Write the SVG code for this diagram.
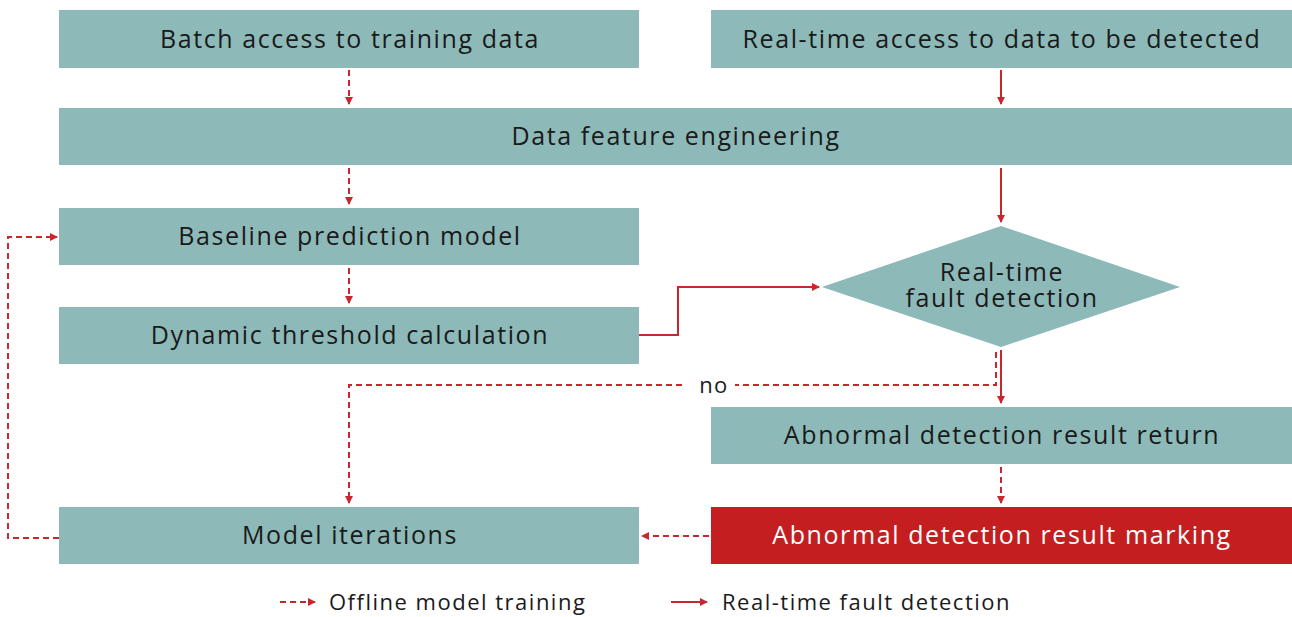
<svg xmlns="http://www.w3.org/2000/svg" width="1292" height="617" viewBox="0 0 1292 617">
<style>
.box{fill:#8db9b8}
.red{fill:#c41e20}
.t{font-family:"Open Sans","Liberation Sans",sans-serif;font-size:25px;letter-spacing:1.6px;fill:#1a1a1a;text-anchor:middle}
.w{fill:#ffffff}
.lg{font-family:"Open Sans","Liberation Sans",sans-serif;font-size:22px;letter-spacing:1.5px;fill:#1a1a1a}
.solid{stroke:#c8282d;stroke-width:2;fill:none}
.dash{stroke:#c8282d;stroke-width:2;fill:none;stroke-dasharray:6 4}
</style>
<defs>
<marker id="ah" markerWidth="8" markerHeight="8" refX="7" refY="4" orient="auto" markerUnits="userSpaceOnUse">
<path d="M0,0 L8,4 L0,8 Z" fill="#c8282d"/>
</marker>
</defs>
<g id="n1"><rect class="box" x="59" y="10" width="580" height="58"/><text class="t" x="350" y="48">Batch access to training data</text></g>
<g id="n2"><rect class="box" x="711" y="10" width="581" height="58"/><text class="t" x="1002" y="48">Real-time access to data to be detected</text></g>
<g id="n3"><rect class="box" x="59" y="108" width="1233" height="57"/><text class="t" x="676" y="145">Data feature engineering</text></g>
<g id="n4"><rect class="box" x="59" y="208" width="580" height="57"/><text class="t" x="350" y="245">Baseline prediction model</text></g>
<g id="n5"><rect class="box" x="59" y="307" width="580" height="57"/><text class="t" x="350" y="344">Dynamic threshold calculation</text></g>
<g id="n6"><polygon class="box" points="1001,226 1180,287 1001,347 822,287"/><text class="t"><tspan x="1002" y="281">Real-time</tspan><tspan x="1002" y="307">fault detection</tspan></text></g>
<g id="n7"><rect class="box" x="711" y="407" width="581" height="57"/><text class="t" x="1002" y="444">Abnormal detection result return</text></g>
<g id="n8"><rect class="box" x="59" y="507" width="580" height="57"/><text class="t" x="350" y="544">Model iterations</text></g>
<g id="n9"><rect class="red" x="711" y="507" width="581" height="57"/><text class="t w" x="1002" y="544">Abnormal detection result marking</text></g>
<g id="connectors">
<path class="dash" d="M349,70 V104" marker-end="url(#ah)"/>
<path class="solid" d="M1001,70 V104" marker-end="url(#ah)"/>
<path class="dash" d="M349,168 V204" marker-end="url(#ah)"/>
<path class="solid" d="M1001,168 V222" marker-end="url(#ah)"/>
<path class="dash" d="M349,268 V303" marker-end="url(#ah)"/>
<path class="solid" d="M639,335 H678 V287 H819" marker-end="url(#ah)"/>
<path class="solid" d="M1001,350 V403" marker-end="url(#ah)"/>
<path class="dash" d="M996,352 V385 H735"/>
<path class="dash" d="M682,385 H349 V503" marker-end="url(#ah)"/>
<text class="lg" x="714" y="393" text-anchor="middle">no</text>
<path class="dash" d="M1001,467 V503" marker-end="url(#ah)"/>
<path class="dash" d="M709,536 H642" marker-end="url(#ah)"/>
<path class="dash" d="M59,538 H8 V237 H57" marker-end="url(#ah)"/>
</g>
<g id="legend">
<path class="dash" d="M280,602 H315" marker-end="url(#ah)"/>
<text class="lg" x="329" y="610">Offline model training</text>
<path class="solid" d="M671,602 H707" marker-end="url(#ah)"/>
<text class="lg" x="722" y="610">Real-time fault detection</text>
</g>
</svg>
